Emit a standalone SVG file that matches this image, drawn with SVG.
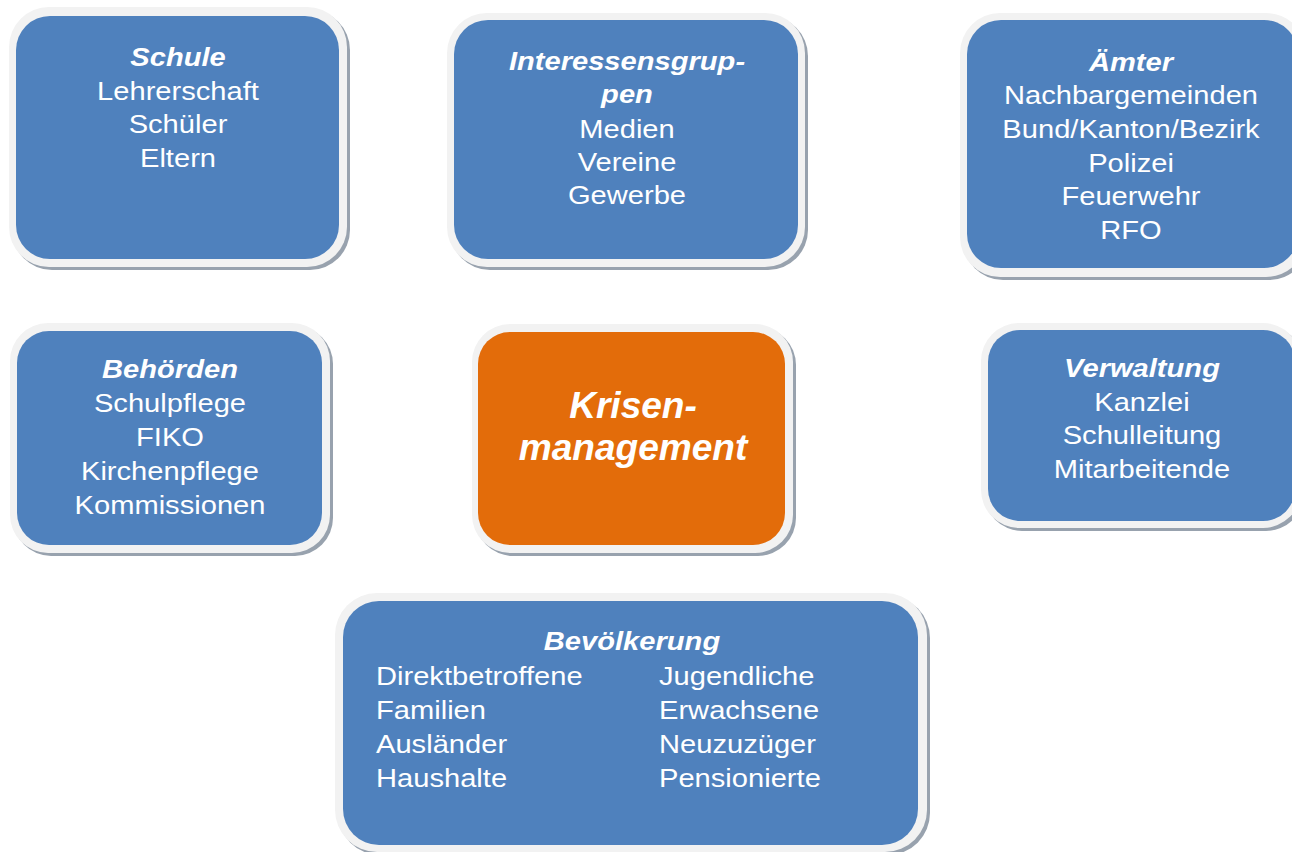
<svg xmlns="http://www.w3.org/2000/svg" width="1292" height="852" viewBox="0 0 1292 852">
<style>
.bg{fill:#ffffff}
.shadow{fill:#98a2ae}
.frame{fill:#f2f2f2}
.blue{fill:#4f81bd}
.orange{fill:#e36c0a}
.t{font-family:"Liberation Sans",Arial,sans-serif;font-size:26px;fill:#ffffff;text-anchor:middle}
.l{text-anchor:start}
.h{font-weight:bold;font-style:italic}
.big{font-size:36px}
</style>
<rect class="bg" x="0" y="0" width="1292" height="852"/>
<g id="connectors"/>

<g id="schule">
<rect class="shadow" x="12" y="10" width="338" height="260" rx="40"/>
<rect class="frame" x="9" y="7" width="338" height="260" rx="40"/>
<rect class="blue" x="16" y="16" width="323" height="243" rx="34"/>
<g transform="translate(178 0) scale(1.12 1)">
<text class="t h" x="0" y="66">Schule</text>
<text class="t" x="0" y="100">Lehrerschaft</text>
<text class="t" x="0" y="133">Schüler</text>
<text class="t" x="0" y="167">Eltern</text>
</g>
</g>

<g id="interessensgruppen">
<rect class="shadow" x="450" y="16" width="358" height="254" rx="40"/>
<rect class="frame" x="447" y="13" width="358" height="254" rx="40"/>
<rect class="blue" x="454" y="20" width="344" height="239" rx="34"/>
<g transform="translate(627 0) scale(1.12 1)">
<text class="t h" x="0" y="70">Interessensgrup-</text>
<text class="t h" x="0" y="103">pen</text>
<text class="t" x="0" y="138">Medien</text>
<text class="t" x="0" y="171">Vereine</text>
<text class="t" x="0" y="204">Gewerbe</text>
</g>
</g>

<g id="aemter">
<rect class="shadow" x="963" y="16" width="346" height="264" rx="40"/>
<rect class="frame" x="960" y="13" width="346" height="264" rx="40"/>
<rect class="blue" x="967" y="20" width="331" height="248" rx="34"/>
<g transform="translate(1131 0) scale(1.12 1)">
<text class="t h" x="0" y="71">Ämter</text>
<text class="t" x="0" y="104">Nachbargemeinden</text>
<text class="t" x="0" y="138">Bund/Kanton/Bezirk</text>
<text class="t" x="0" y="172">Polizei</text>
<text class="t" x="0" y="205">Feuerwehr</text>
<text class="t" x="0" y="239">RFO</text>
</g>
</g>

<g id="behoerden">
<rect class="shadow" x="13" y="326" width="320" height="230" rx="38"/>
<rect class="frame" x="10" y="323" width="320" height="230" rx="38"/>
<rect class="blue" x="17" y="331" width="305" height="214" rx="32"/>
<g transform="translate(170 0) scale(1.12 1)">
<text class="t h" x="0" y="378">Behörden</text>
<text class="t" x="0" y="412">Schulpflege</text>
<text class="t" x="0" y="446">FIKO</text>
<text class="t" x="0" y="480">Kirchenpflege</text>
<text class="t" x="0" y="514">Kommissionen</text>
</g>
</g>

<g id="krisenmanagement">
<rect class="shadow" x="475" y="327" width="321" height="229" rx="38"/>
<rect class="frame" x="472" y="324" width="321" height="229" rx="38"/>
<rect class="orange" x="478" y="332" width="307" height="213" rx="32"/>
<g transform="translate(633 0) scale(1.03 1)">
<text class="t h big" x="0" y="418">Krisen-</text>
<text class="t h big" x="0" y="460">management</text>
</g>
</g>

<g id="verwaltung">
<rect class="shadow" x="984" y="326" width="320" height="205" rx="38"/>
<rect class="frame" x="981" y="323" width="320" height="205" rx="38"/>
<rect class="blue" x="988" y="330" width="307" height="191" rx="32"/>
<g transform="translate(1142 0) scale(1.12 1)">
<text class="t h" x="0" y="377">Verwaltung</text>
<text class="t" x="0" y="411">Kanzlei</text>
<text class="t" x="0" y="444">Schulleitung</text>
<text class="t" x="0" y="478">Mitarbeitende</text>
</g>
</g>

<g id="bevoelkerung">
<rect class="shadow" x="338" y="596" width="592" height="259" rx="42"/>
<rect class="frame" x="335" y="593" width="592" height="259" rx="42"/>
<rect class="blue" x="343" y="601" width="575" height="244" rx="36"/>
<g transform="translate(632 0) scale(1.12 1)">
<text class="t h" x="0" y="650">Bevölkerung</text>
</g>
<g transform="translate(376 0) scale(1.12 1)">
<text class="t l" x="0" y="685">Direktbetroffene</text>
<text class="t l" x="0" y="719">Familien</text>
<text class="t l" x="0" y="753">Ausländer</text>
<text class="t l" x="0" y="787">Haushalte</text>
</g>
<g transform="translate(659 0) scale(1.12 1)">
<text class="t l" x="0" y="685">Jugendliche</text>
<text class="t l" x="0" y="719">Erwachsene</text>
<text class="t l" x="0" y="753">Neuzuzüger</text>
<text class="t l" x="0" y="787">Pensionierte</text>
</g>
</g>
</svg>
